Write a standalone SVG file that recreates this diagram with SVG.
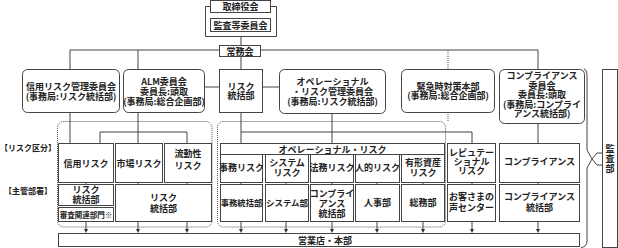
<svg xmlns="http://www.w3.org/2000/svg" width="618" height="248" viewBox="0 0 618 248">
<style>
.b{fill:#fff;stroke:#444;stroke-width:1}
.ln{fill:none;stroke:#444;stroke-width:1}
.dt{fill:none;stroke:#555;stroke-width:1;stroke-dasharray:1 1}
text{font-family:"Noto Sans CJK JP","Noto Sans",sans-serif;font-size:9px;font-weight:700;fill:#222;text-anchor:middle;dominant-baseline:central}
.s{font-size:7.5px}
.l{text-anchor:start;font-size:8px}
</style>
<defs>
<marker id="ah" markerUnits="userSpaceOnUse" markerWidth="6" markerHeight="6" refX="3" refY="5" orient="auto-start-reverse" viewBox="0 0 6 6">
<path d="M0.5,1 L5.5,1 L3,5 Z" fill="#333" transform="rotate(-90 3 3)"/>
</marker>
</defs>
<g id="connectors">
<path class="ln" d="M241,36V45M241,56V69M70,50H538M70,50V69M138,50V69M538,50V69"/>
<path class="dt" d="M448,50V69M448,112V121"/>
<path class="ln" d="M204,87H219M262,87H279"/>
<path class="ln" d="M70,112V143M138,112V143M100,143V132H187V143"/>
<path class="ln" d="M241,112V143M332,113V143M241,132H472V143M538,123V143"/>
<path class="ln" d="M86,182V184M138,182V184M187,182V184M241,182V184M286,182V184M332,182V184M377,182V184M423,182V184M472,182V184M538,182V184"/>
<g stroke="#444" fill="none">
<path d="M86,221V229"/><path d="M138,221V229"/><path d="M187,221V229"/>
<path d="M241,221V229"/><path d="M286,221V229"/><path d="M332,221V229"/><path d="M377,221V229"/><path d="M423,221V229"/>
<path d="M472,221V229"/><path d="M538,221V229"/>
</g>
<g fill="#333">
<path d="M84,229H88L86,233Z"/><path d="M136,229H140L138,233Z"/><path d="M185,229H189L187,233Z"/>
<path d="M239,229H243L241,233Z"/><path d="M284,229H288L286,233Z"/><path d="M330,229H334L332,233Z"/><path d="M375,229H379L377,233Z"/><path d="M421,229H425L423,233Z"/>
<path d="M470,229H474L472,233Z"/><path d="M536,229H540L538,233Z"/>
</g>
<path class="ln" d="M584,69Q587,69.5 587,76V150L592,159L587,168V241Q587,247 581,247.5"/>
<path class="ln" d="M602.5,153H597L592,159L597,165H602.5"/>
</g>
<g id="board">
<path class="ln" d="M210,6.5H205.5V36.5H276.5V6.5H271"/>
<rect class="b" x="210.5" y="0.5" width="60" height="12"/>
<text x="240.5" y="6.5">取締役会</text>
</g>
<g id="audit-committee">
<rect class="b" x="210.5" y="18.5" width="60" height="13"/>
<text x="240.5" y="25">監査等委員会</text>
</g>
<g id="executive">
<rect class="b" x="219.5" y="45.5" width="41" height="11"/>
<text x="240" y="51">常務会</text>
</g>
<g id="credit-committee">
<rect class="b" x="22.5" y="69.5" width="97" height="43" rx="5"/>
<text x="71" y="86">信用リスク管理委員会</text>
<text x="71" y="96">(事務局:リスク統括部)</text>
</g>
<g id="alm-committee">
<rect class="b" x="123.5" y="69.5" width="81" height="43" rx="5"/>
<text x="164" y="81">ALM委員会</text>
<text x="164" y="91">委員長:頭取</text>
<text x="164" y="101">(事務局:総合企画部)</text>
</g>
<g id="risk-dept">
<rect class="b" x="219.5" y="69.5" width="43" height="43"/>
<text x="241" y="86">リスク</text>
<text x="241" y="95.5">統括部</text>
</g>
<g id="op-committee">
<rect class="b" x="279.5" y="69.5" width="106" height="44" rx="5"/>
<text x="332.5" y="81.5">オペレーショナル</text>
<text x="332.5" y="91.5">・リスク管理委員会</text>
<text x="332.5" y="101.5">(事務局:リスク統括部)</text>
</g>
<g id="emergency">
<rect class="b" x="401.5" y="69.5" width="93" height="43" rx="5"/>
<text x="448" y="86">緊急時対策本部</text>
<text x="448" y="95">(事務局:総合企画部)</text>
</g>
<g id="compliance-committee">
<rect class="b" x="499.5" y="69.5" width="85" height="54" rx="5"/>
<text x="542" y="75.5">コンプライアンス</text>
<text x="542" y="85">委員会</text>
<text x="542" y="94.5">委員長:頭取</text>
<text x="542" y="104">(事務局:コンプライ</text>
<text x="542" y="113.5">アンス統括部)</text>
</g>
<g id="audit-dept">
<rect class="b" x="602.5" y="69.5" width="15" height="178"/>
<text x="610" y="148">監</text>
<text x="610" y="158">査</text>
<text x="610" y="168">部</text>
</g>
<g id="labels">
<text class="l" x="0" y="147">【リスク区分】</text>
<text class="l" x="4" y="190">【主管部署】</text>
</g>
<g id="group-market">
<rect class="dt" x="57.5" y="121.5" width="154.5" height="105.5" rx="6"/>
</g>
<g id="group-operational">
<rect class="dt" x="217.5" y="121.5" width="228" height="105.5" rx="6"/>
</g>
<g id="credit-risk">
<rect class="b" x="58.5" y="143.5" width="55" height="39"/>
<text x="86" y="163">信用リスク</text>
</g>
<g id="market-risk">
<rect class="b" x="115.5" y="143.5" width="47" height="39"/>
<text x="139" y="163">市場リスク</text>
</g>
<g id="liquidity-risk">
<rect class="b" x="164.5" y="143.5" width="47" height="39"/>
<text x="188" y="153.5">流動性</text>
<text x="188" y="165">リスク</text>
</g>
<g id="op-risk">
<rect class="b" x="220.5" y="143.5" width="224" height="11"/>
<text x="332.5" y="149">オペレーショナル・リスク</text>
</g>
<g id="admin-risk">
<rect class="b" x="220.5" y="154.5" width="42" height="28"/>
<text x="241.5" y="167.5">事務リスク</text>
</g>
<g id="system-risk">
<rect class="b" x="265.5" y="154.5" width="43" height="28"/>
<text x="287" y="162">システム</text>
<text x="287" y="172">リスク</text>
</g>
<g id="legal-risk">
<rect class="b" x="310.5" y="154.5" width="43" height="28"/>
<text x="332" y="167.5">法務リスク</text>
</g>
<g id="human-risk">
<rect class="b" x="355.5" y="154.5" width="44" height="28"/>
<text x="377.5" y="167.5">人的リスク</text>
</g>
<g id="asset-risk">
<rect class="b" x="401.5" y="154.5" width="43" height="28"/>
<text x="423" y="162">有形資産</text>
<text x="423" y="172">リスク</text>
</g>
<g id="reputation-risk">
<rect class="b" x="447.5" y="143.5" width="48" height="39"/>
<text x="471.5" y="152">レピュテー</text>
<text x="471.5" y="161">ショナル</text>
<text x="471.5" y="170">リスク</text>
</g>
<g id="compliance-risk">
<rect class="b" x="499.5" y="143.5" width="80" height="39"/>
<text x="539.5" y="161">コンプライアンス</text>
</g>
<g id="dept-risk-small">
<rect class="b" x="58.5" y="184.5" width="55" height="21"/>
<text x="86" y="189.5">リスク</text>
<text x="86" y="199.5">統括部</text>
</g>
<g id="dept-credit-review">
<rect class="b" x="58.5" y="207.5" width="55" height="14"/>
<text class="s" x="86" y="214.5">審査関連部門※</text>
</g>
<g id="dept-risk-large">
<rect class="b" x="115.5" y="184.5" width="96" height="37"/>
<text x="163.5" y="197.5">リスク</text>
<text x="163.5" y="208.5">統括部</text>
</g>
<g id="dept-admin">
<rect class="b" x="220.5" y="184.5" width="42" height="37"/>
<text x="241.5" y="202" style="font-size:8.3px">事務統括部</text>
</g>
<g id="dept-system">
<rect class="b" x="265.5" y="184.5" width="43" height="37"/>
<text x="287" y="202" style="font-size:8.5px">システム部</text>
</g>
<g id="dept-compliance-op">
<rect class="b" x="310.5" y="184.5" width="43" height="37"/>
<text x="332" y="193">コンプライ</text>
<text x="332" y="203">アンス</text>
<text x="332" y="213.5">統括部</text>
</g>
<g id="dept-hr">
<rect class="b" x="355.5" y="184.5" width="44" height="37"/>
<text x="377.5" y="202">人事部</text>
</g>
<g id="dept-general">
<rect class="b" x="401.5" y="184.5" width="43" height="37"/>
<text x="423" y="202">総務部</text>
</g>
<g id="dept-voice">
<rect class="b" x="447.5" y="184.5" width="48" height="37"/>
<text x="471.5" y="196">お客さまの</text>
<text x="471.5" y="207">声センター</text>
</g>
<g id="dept-compliance">
<rect class="b" x="499.5" y="184.5" width="80" height="37"/>
<text x="539.5" y="196">コンプライアンス</text>
<text x="539.5" y="207">統括部</text>
</g>
<g id="branches">
<rect class="b" x="58.5" y="233.5" width="521" height="13"/>
<text x="325" y="240">営業店・本部</text>
</g>
</svg>
